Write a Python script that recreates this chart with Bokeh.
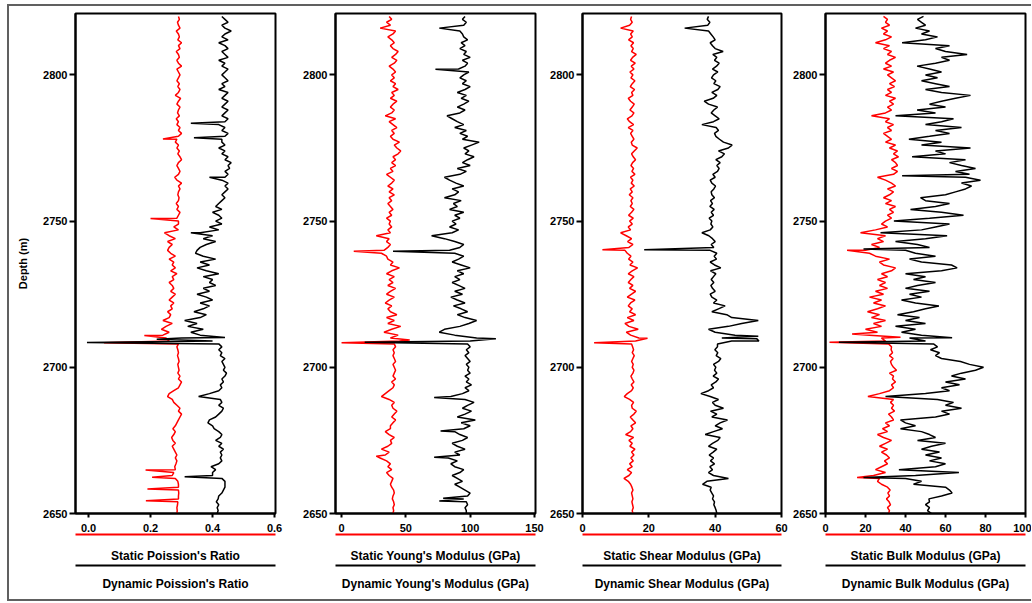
from bokeh.plotting import figure
from bokeh.layouts import row
from bokeh.models import LinearAxis, FixedTicker, Range1d, NumeralTickFormatter
from bokeh.embed import file_html
from bokeh.resources import INLINE

# ---------------- data ----------------
depth = list(range(2650, 2821))  # 1 m sampling grid, 2650 .. 2820 m

# Panel 1: Poisson's ratio
static_pr = [
    .285, .286, .285, .287, .288, .29, .29, .291, .29, .29,
    .29, .288, .28, .27, .275, .28, .278, .282, .285, .28,
    .285, .28, .275, .27, .28, .272, .268, .275, .28, .272,
    .28, .285, .29, .295, .30, .29, .295, .285, .275, .27,
    .255, .26, .275, .29, .295, .30, .29, .295, .288, .292,
    .29, .288, .292, .29, .287, .29, .288, .285, .29, .26,
    .25, .24, .26, .235, .25, .27, .24, .26, .265, .255,
    .27, .265, .275, .26, .27, .28, .265, .275, .27, .26,
    .275, .27, .285, .265, .28, .27, .275, .26, .28, .265,
    .255, .26, .27, .255, .28, .26, .245, .29, .275, .29,
    .29, .285, .29, .295, .285, .29, .283, .29, .292, .288,
    .29, .295, .29, .30, .285, .278, .29, .295, .29, .285,
    .29, .30, .295, .288, .293, .285, .29, .28, .285, .29,
    .30, .29, .295, .285, .29, .283, .293, .287, .29, .295,
    .285, .29, .297, .28, .29, .295, .288, .293, .285, .29,
    .295, .29, .285, .30, .29, .285, .293, .29, .283, .295,
    .29, .30, .288, .293, .29, .283, .295, .29, .287, .293,
    .29]
static_pr_spikes = [(2654.4, .185), (2658.4, .19), (2662.4, .205), (2664.9, .184),
                    (2708.4, .05), (2710.9, .18), (2750.85, .20), (2778.1, .24)]
dynamic_pr = [
    .415, .418, .415, .42, .412, .418, .42, .43, .435, .44,
    .44, .44, .43, .40, .40, .41, .395, .42, .43, .425,
    .43, .425, .435, .42, .43, .41, .425, .43, .42, .405,
    .40, .385, .39, .41, .42, .43, .435, .42, .43, .425,
    .355, .39, .42, .43, .425, .435, .43, .44, .445, .435,
    .44, .435, .43, .44, .425, .43, .42, .43, .42, .40,
    .30, .36, .33, .37, .32, .35, .31, .36, .38, .34,
    .37, .39, .36, .40, .38, .35, .39, .37, .41, .39,
    .40, .37, .42, .38, .35, .39, .36, .41, .37, .345,
    .35, .36, .38, .41, .37, .40, .36, .42, .39, .43,
    .41, .43, .42, .40, .43, .41, .42, .43, .44, .43,
    .44, .45, .44, .45, .43, .44, .45, .44, .455, .45,
    .46, .44, .45, .43, .44, .42, .44, .43, .43, .44,
    .45, .43, .44, .42, .44, .45, .43, .44, .45, .43,
    .44, .45, .43, .44, .45, .42, .44, .43, .45, .44,
    .43, .44, .45, .43, .44, .42, .45, .44, .43, .45,
    .44, .42, .45, .43, .44, .46, .44, .43, .45, .44,
    .43]
dynamic_pr_spikes = [(2662.6, .31), (2708.5, -0.005), (2709.6, .22), (2710.2, .44),
                     (2746.0, .33), (2765.0, .39), (2778.5, .34), (2783.5, .33)]

# Panel 2: Young's modulus (GPa)
static_ym = [
    40, 40.5, 40, 41, 40.5, 39.5, 40, 41, 40.5, 39,
    38, 39, 40, 37, 35, 39, 36, 38, 35, 30,
    34, 37, 31, 36, 39, 38, 41, 37, 34, 38,
    38, 40, 42, 39, 41, 43, 40, 39, 41, 37,
    31, 34, 37, 40, 41, 39, 42, 40, 41, 42,
    41, 40, 42, 41, 40, 41, 40, 42, 41, 45,
    38, 44, 33, 39, 46, 36, 41, 35, 43, 38,
    36, 39, 34, 37, 41, 35, 38, 42, 36, 40,
    37, 41, 35, 39, 45, 38, 40, 36, 35, 31,
    33, 36, 38, 35, 37, 27, 38, 36, 39, 37,
    38, 35, 39, 37, 40, 38, 36, 39, 37, 41,
    37, 40, 36, 39, 41, 38, 35, 40, 38, 42,
    39, 42, 40, 44, 46, 43, 41, 45, 40, 38,
    41, 39, 43, 40, 37, 42, 34, 39, 41, 38,
    40, 43, 38, 41, 39, 44, 40, 42, 38, 41,
    39, 42, 40, 37, 41, 43, 39, 42, 44, 40,
    38, 41, 39, 36, 40, 42, 30, 38, 35, 39,
    37]
static_ym_spikes = [(2669.6, 27), (2708.4, 0), (2709.3, 53), (2739.7, 9.5)]
dynamic_ym = [
    97, 97, 96, 98, 97, 95, 98, 100, 96, 92,
    88, 94, 90, 86, 92, 95, 88, 85, 90, 83,
    92, 88, 96, 90, 86, 94, 98, 92, 88, 95,
    100, 93, 104, 90, 96, 101, 94, 98, 103, 96,
    85, 94, 99, 96, 101, 97, 99, 96, 100, 98,
    99, 97, 100, 98, 96, 99, 97, 100, 98, 100,
    105, 88, 76, 80, 92, 99, 105, 96, 90, 98,
    93, 87, 96, 90, 85, 94, 88, 96, 91, 86,
    92, 88, 95, 90, 100, 93, 86, 91, 95, 88,
    84, 92, 95, 88, 80, 70, 86, 91, 84, 89,
    86, 92, 88, 95, 84, 90, 87, 93, 80, 88,
    91, 86, 95, 89, 84, 80, 92, 97, 90, 100,
    94, 98, 103, 96, 99, 95, 101, 107, 94, 98,
    92, 97, 88, 95, 90, 86, 82, 92, 96, 90,
    95, 99, 93, 97, 90, 96, 100, 94, 97, 92,
    95, 99, 91, 96, 98, 94, 100, 95, 97, 92,
    96, 93, 98, 95, 94, 92, 76, 95, 97, 94,
    96]
dynamic_ym_spikes = [(2654.3, 76), (2655.2, 79), (2669.2, 72), (2678.2, 77), (2689.7, 72),
                     (2708.6, 18), (2709.8, 120), (2739.7, 40), (2801.9, 73)]

# Panel 3: Shear modulus (GPa)
static_sm = [
    15.2, 15, 15.3, 15.1, 14.9, 15.2, 15, 14.8, 15.2, 14.9,
    14.5, 13.8, 12.5, 14, 14.8, 13.5, 15, 14.2, 15.3, 14.6,
    15.5, 14.8, 15.8, 14.3, 15, 14, 15.4, 13, 14.5, 15.2,
    14.6, 16, 15.2, 14.4, 15.5, 16.2, 15, 14.8, 15.4, 14.2,
    12.6, 13.5, 14.8, 15.3, 14.7, 15.5, 15, 14.6, 15.2, 15.5,
    15, 15.3, 14.8, 15.2, 15.6, 15, 15.4, 15.1, 14.8, 16,
    17, 14.5, 13.2, 16.8, 14, 12.8, 15.5, 13.5, 16, 14.2,
    15, 13.8, 14.5, 15.8, 13.5, 14.8, 16, 14.2, 15.2, 13.8,
    14.6, 15.5, 13.8, 15, 16.6, 14.3, 15.2, 13.9, 14.6, 13.5,
    12.8, 14, 15.2, 13.6, 14.8, 13.2, 11.5, 14.5, 13.8, 15,
    14.2, 15.3, 13.9, 14.8, 15.5, 14.4, 15, 14.6, 15.2, 14.1,
    15, 14.4, 15.6, 14.7, 15.2, 14.5, 15.8, 14.9, 15.4, 14.6,
    15.1, 16, 15.3, 14.8, 15.6, 16.5, 15, 14.7, 15.5, 15,
    14.5, 15.2, 13.8, 15.4, 14.2, 13.5, 14.9, 15.5, 14.3, 15,
    15.6, 14.5, 13.8, 15.2, 14.8, 15.7, 14.4, 15, 15.8, 14.6,
    15.2, 14.3, 15.5, 14.7, 15.9, 14.5, 15.1, 16.2, 14.8, 15.3,
    14.6, 15.4, 13.9, 15, 14.5, 15.3, 11.5, 14.2, 15, 14.5,
    14.8]
static_sm_spikes = [(2708.4, 3.5), (2709.9, 19.6), (2740.2, 6)]
dynamic_sm = [
    40.5, 40.3, 40, 39.6, 39.8, 39.2, 39.5, 39, 38.5, 38.8,
    36.2, 37.5, 44, 39.5, 38, 39.2, 38.4, 39.8, 38.6, 39.5,
    38.2, 39.4, 40.5, 38, 39.2, 40.8, 41.5, 37, 39.5, 42.2,
    40, 41.5, 43.7, 39, 40.5, 38.6, 42.5, 40, 39.2, 41,
    38.5, 35.7, 38, 39.5, 38.8, 40.2, 41, 39.4, 40.5, 39.8,
    40.2, 39.5, 41, 41.7, 40.3, 40.8, 39.9, 40.7, 40.7, 45,
    42, 46, 40, 38, 44, 48, 53, 45, 43.5, 39,
    41, 43, 39.5, 40.5, 39, 38.5, 40, 39.2, 38.7, 39.6,
    38.8, 39.5, 40.2, 38.6, 41.7, 39.8, 38.5, 40.4, 39.7, 40.5,
    38.5, 39.6, 38.8, 40, 39.2, 38.1, 36, 38.5, 39.3, 38.7,
    39, 38.2, 39.5, 38.8, 39.7, 38.4, 39.2, 38.6, 39.8, 39,
    38.8, 39.6, 40.1, 39, 38.5, 40, 39.3, 40.7, 41.2, 40.5,
    41.5, 40.2, 42, 42.8, 41, 44, 45.1, 42.5, 41.3, 40.2,
    39.8, 41, 40.3, 36, 39.5, 41.2, 40, 38.8, 39.6, 40.7,
    38, 36.7, 39.4, 40.5, 39, 40.8, 41.5, 39.6, 40.2, 38.9,
    39.5, 40.8, 39.2, 40.4, 41.2, 39.8, 40.5, 39.3, 42.4, 40,
    39.2, 38.5, 40, 39.4, 38.7, 38, 30.8, 37.8, 38.4, 37.6,
    38]
dynamic_sm_spikes = [(2709.0, 53.2), (2709.8, 52.5), (2710.6, 53), (2740.2, 18.6)]

# Panel 4: Bulk modulus (GPa)
static_bm = [
    31.5, 32, 31, 32.5, 31.8, 30.5, 32, 31.2, 32.3, 31,
    28, 26, 27, 24, 30, 25, 28, 31, 29.5, 32,
    30.5, 28, 31, 27, 30, 33, 29, 26, 31, 28.5,
    32, 30, 34, 33, 31.5, 34.5, 33, 34, 32.5, 34,
    21.2, 27, 32, 34, 33, 35, 33.5, 34, 32, 35.5,
    34, 33, 32.5, 33.8, 32, 33.5, 32.8, 33, 31.5, 30,
    28, 22, 26, 20, 28, 24, 30, 23, 27, 21,
    26, 30, 24, 28, 22, 29, 25, 31, 27, 30,
    26, 31, 28, 33, 35, 29, 27, 32, 25, 22,
    20, 27, 23, 29, 26, 30, 17.5, 25, 31, 28,
    30, 33, 31, 34, 32, 35, 30, 33, 29, 32,
    34, 31, 35, 33, 30, 26, 34, 36, 33, 36,
    35, 33, 36.5, 34, 36, 32, 35, 30, 33, 31,
    29, 33, 31, 34, 30, 32, 23, 30, 33, 31,
    34, 32, 35, 30, 33, 31, 34.5, 32, 35, 33,
    31, 34, 29, 33, 30, 32, 35, 31, 33, 29,
    32, 25, 30, 33, 29, 31, 28, 32, 30, 31,
    29]
static_bm_spikes = [(2662.3, 15.8), (2708.6, 2), (2710.3, 37.5), (2711.4, 13.3), (2740.0, 10.8)]
dynamic_bm = [
    53, 51, 52, 50, 52, 51.7, 58, 63.3, 62, 60,
    44, 48, 40, 45, 66.7, 36.7, 55, 60, 52, 58,
    50, 57, 48, 53, 60, 46, 55, 52, 48, 37.5,
    45, 40, 37.5, 55, 62, 58, 68, 60, 64, 56,
    30, 50, 62, 58, 67, 60, 70, 63, 68, 75,
    79, 72, 67.5, 58, 55, 57, 52.5, 56, 54, 50,
    42, 48, 38, 45, 35, 50, 40, 47, 36, 44,
    50, 56.7, 45, 38, 48, 42, 52, 40, 46, 55,
    44, 50, 40, 58, 65.8, 63, 48, 42, 55, 45,
    40, 52, 46, 35, 50, 60.8, 27.5, 48, 55, 62,
    34.2, 52, 69, 58, 42.5, 55, 62, 50, 47.5, 60,
    65, 70, 73, 68, 77.5, 70, 72, 65, 75, 68,
    62, 70, 43.3, 60, 55, 72.5, 48, 58, 41.7, 52,
    62, 55, 68, 50, 58, 64, 35, 55, 45.8, 60,
    52, 58, 65, 72.5, 58, 50, 62, 55, 48, 56,
    50, 58, 52, 45.8, 55, 62, 58, 70.8, 60, 55,
    62, 38.3, 50, 56, 48, 52, 45, 50, 48, 46,
    49]
dynamic_bm_spikes = [(2662.3, 19), (2708.6, 6.7), (2710.1, 63.3), (2740.5, 19), (2765.5, 38.3)]

depth_ticks = [2650, 2700, 2750, 2800]
pr_ticks = [0.0, 0.2, 0.4, 0.6]
ym_ticks = [0, 50, 100, 150]
sm_ticks = [0, 20, 40, 60]
bm_ticks = [0, 20, 40, 60, 80, 100]

labels = [
    ("Static Poission's Ratio", "Dynamic Poission's Ratio"),
    ("Static Young's Modulus (GPa)", "Dynamic Young's Modulus (GPa)"),
    ("Static Shear Modulus (GPa)", "Dynamic Shear Modulus (GPa)"),
    ("Static Bulk Modulus (GPa)", "Dynamic Bulk Modulus (GPa)"),
]

# ---------------- drawing ----------------
FONT = "Liberation Sans"
H = 602
TOP = 13
FRAME_H = 500


def merge(base, spikes):
    pts = sorted(list(zip(depth, base)) + list(spikes))
    return [d for d, _ in pts], [v for _, v in pts]


def make_panel(xr, xticks, fmt, s_base, s_spk, d_base, d_spk, labs,
               left, frame_w, right, ylabel=None):
    p = figure(width=left + frame_w + right, height=H, title=None,
               x_range=Range1d(*xr), y_range=Range1d(2650, 2821),
               output_backend="svg", toolbar_location=None,
               min_border_left=left, min_border_right=right,
               min_border_top=TOP, min_border_bottom=H - TOP - FRAME_H)
    p.grid.visible = False
    p.outline_line_color = "black"
    p.outline_line_width = 2
    p.background_fill_color = "white"
    p.border_fill_color = None

    sd, sv = merge(s_base, s_spk)
    dd, dv = merge(d_base, d_spk)
    p.line(sv, sd, line_color="#ff0000", line_width=1.5)
    p.line(dv, dd, line_color="black", line_width=1.5)

    yax = p.yaxis[0]
    yax.ticker = FixedTicker(ticks=depth_ticks)
    yax.axis_line_width = 2
    yax.major_tick_line_width = 2
    yax.major_tick_out = 6
    yax.major_tick_in = 0
    yax.minor_tick_line_color = None
    yax.major_label_standoff = 2
    yax.major_label_text_font = FONT
    yax.major_label_text_font_style = "bold"
    yax.major_label_text_font_size = "11px"
    yax.major_label_text_color = "black"
    if ylabel:
        yax.axis_label = ylabel
        yax.axis_label_standoff = 11
        yax.axis_label_text_font = FONT
        yax.axis_label_text_font_style = "bold"
        yax.axis_label_text_font_size = "11px"
        yax.axis_label_text_color = "black"

    xax = p.xaxis[0]
    xax.ticker = FixedTicker(ticks=xticks)
    xax.formatter = NumeralTickFormatter(format=fmt)
    xax.axis_line_width = 2
    xax.major_tick_line_width = 2
    xax.major_tick_out = 4
    xax.major_tick_in = 0
    xax.minor_tick_line_color = None
    xax.major_label_standoff = 6
    xax.major_label_text_font = FONT
    xax.major_label_text_font_style = "bold"
    xax.major_label_text_font_size = "11px"
    xax.major_label_text_color = "black"

    for lab, col, so in [(labs[0], "#ff0000", 14), (labs[1], "black", 11)]:
        ax = LinearAxis(ticker=FixedTicker(ticks=[]), axis_label=lab,
                        axis_line_color=col, axis_line_width=2,
                        major_tick_out=0, major_tick_in=0,
                        minor_tick_out=0, minor_tick_in=0,
                        major_label_standoff=0, axis_label_standoff=so,
                        axis_label_text_font=FONT,
                        axis_label_text_font_style="bold",
                        axis_label_text_font_size="12px",
                        axis_label_text_color="black")
        p.add_layout(ax, "below")
    return p


p1 = make_panel((-0.042, 0.603), pr_ticks, "0.0", static_pr, static_pr_spikes,
                dynamic_pr, dynamic_pr_spikes, labels[0], 75, 200, 12, ylabel="Depth (m)")
p2 = make_panel((-4.7, 150.8), ym_ticks, "0", static_ym, static_ym_spikes,
                dynamic_ym, dynamic_ym_spikes, labels[1], 48, 200, 10)
p3 = make_panel((0, 60), sm_ticks, "0", static_sm, static_sm_spikes,
                dynamic_sm, dynamic_sm_spikes, labels[2], 37, 199, 8)
p4 = make_panel((0, 100), bm_ticks, "0", static_bm, static_bm_spikes,
                dynamic_bm, dynamic_bm_spikes, labels[3], 36, 200, 6)

BOX = "#606060"
shadow = ", ".join([
    "inset 0 4px 0 0 #ffffff",
    "inset 7px 0 0 0 #ffffff",
    "inset 0 -1px 0 0 #ffffff",
    "inset 0 6px 0 0 " + BOX,
    "inset 9px 0 0 0 " + BOX,
    "inset 0 -3px 0 0 " + BOX,
])
layout = row(p1, p2, p3, p4,
             styles={"box-shadow": shadow, "background-color": "#ffffff"})

open("out.html", "w").write(file_html(layout, INLINE))
